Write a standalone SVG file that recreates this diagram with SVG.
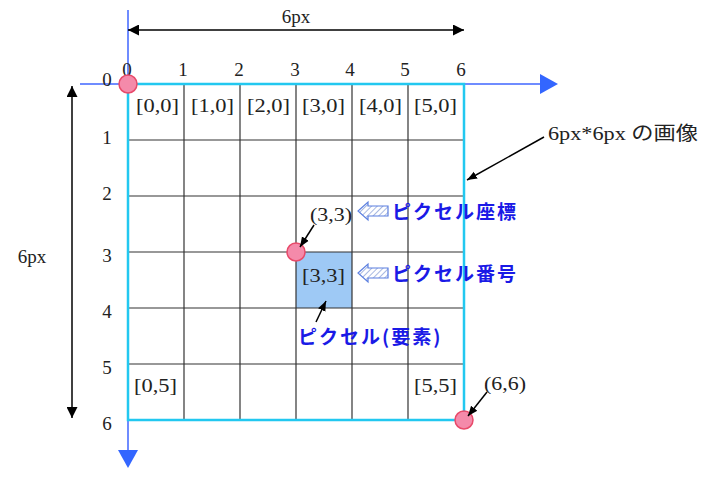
<svg xmlns="http://www.w3.org/2000/svg" width="706" height="496" viewBox="0 0 706 496">
<style>
.t{font-family:"Liberation Serif","Noto Sans CJK JP",serif;font-size:19px;fill:#222}
.b{font-family:"Noto Sans CJK JP",sans-serif;font-size:19px;font-weight:bold;fill:#1a1ae6;letter-spacing:2px}
.g{stroke:#333;stroke-width:1.2}
.ax{stroke:#6f8cff;stroke-width:2}
.pt{fill:#f48aaa;stroke:#e84a6a;stroke-width:1.5}
</style>
<defs>
<marker id="ah" viewBox="0 0 10 10" refX="10" refY="5" markerWidth="10" markerHeight="10" markerUnits="userSpaceOnUse" orient="auto"><path d="M0,1 L10,5 L0,9 Z" fill="#000"/></marker>
<marker id="ah2" viewBox="0 0 10 10" refX="10" refY="5" markerWidth="14" markerHeight="11" markerUnits="userSpaceOnUse" orient="auto-start-reverse"><path d="M0,0 L10,5 L0,10 Z" fill="#000"/></marker>
<pattern id="hatch" width="4" height="4" patternUnits="userSpaceOnUse" patternTransform="rotate(45)"><rect width="4" height="4" fill="#fff"/><line x1="0" y1="0" x2="0" y2="4" stroke="#8aa0d8" stroke-width="1.5"/></pattern>
</defs>
<rect width="706" height="496" fill="#fff"/>
<g id="axes">
<line class="ax" x1="80" y1="84" x2="542" y2="84"/>
<path d="M540,74 L558,84 L540,94 Z" fill="#3366ff"/>
<line class="ax" x1="128" y1="10" x2="128" y2="452"/>
<path d="M118,450 L128,468 L138,450 Z" fill="#3366ff"/>
</g>
<g id="grid">
<rect x="296" y="252" width="56" height="56" fill="#9ec9f5"/>
<g class="g">
<line x1="184" y1="84" x2="184" y2="420"/><line x1="240" y1="84" x2="240" y2="420"/><line x1="296" y1="84" x2="296" y2="420"/><line x1="352" y1="84" x2="352" y2="420"/><line x1="408" y1="84" x2="408" y2="420"/>
<line x1="128" y1="140" x2="464" y2="140"/><line x1="128" y1="196" x2="464" y2="196"/><line x1="128" y1="252" x2="464" y2="252"/><line x1="128" y1="308" x2="464" y2="308"/><line x1="128" y1="364" x2="464" y2="364"/>
</g>
<rect x="128" y="84" width="336" height="336" fill="none" stroke="#22c8f0" stroke-width="2.5"/>
</g>
<g id="labels" class="t">
<text x="127" y="76" text-anchor="middle">0</text><text x="183" y="76" text-anchor="middle">1</text><text x="239" y="76" text-anchor="middle">2</text><text x="295" y="76" text-anchor="middle">3</text><text x="350" y="76" text-anchor="middle">4</text><text x="405" y="76" text-anchor="middle">5</text><text x="461" y="76" text-anchor="middle">6</text>
<text x="107" y="86" text-anchor="middle">0</text><text x="107" y="144" text-anchor="middle">1</text><text x="107" y="200" text-anchor="middle">2</text><text x="107" y="262" text-anchor="middle">3</text><text x="107" y="318" text-anchor="middle">4</text><text x="107" y="374" text-anchor="middle">5</text><text x="107" y="430" text-anchor="middle">6</text>
<text x="136" y="112" textLength="43" lengthAdjust="spacingAndGlyphs">[0,0]</text><text x="191" y="112" textLength="43" lengthAdjust="spacingAndGlyphs">[1,0]</text><text x="247" y="112" textLength="43" lengthAdjust="spacingAndGlyphs">[2,0]</text><text x="302" y="112" textLength="43" lengthAdjust="spacingAndGlyphs">[3,0]</text><text x="359" y="112" textLength="43" lengthAdjust="spacingAndGlyphs">[4,0]</text><text x="414" y="112" textLength="43" lengthAdjust="spacingAndGlyphs">[5,0]</text>
<text x="302" y="282" textLength="43" lengthAdjust="spacingAndGlyphs">[3,3]</text>
<text x="134" y="392" textLength="43" lengthAdjust="spacingAndGlyphs">[0,5]</text><text x="414" y="392" textLength="43" lengthAdjust="spacingAndGlyphs">[5,5]</text>
<text x="296" y="23" text-anchor="middle">6px</text>
<text x="32" y="263" text-anchor="middle">6px</text>
<text x="310" y="221" textLength="42" lengthAdjust="spacingAndGlyphs">(3,3)</text>
<text x="484" y="390" textLength="42" lengthAdjust="spacingAndGlyphs">(6,6)</text>
<text x="548" y="140" textLength="150" lengthAdjust="spacingAndGlyphs">6px*6px の画像</text>
</g>
<g id="points">
<circle class="pt" cx="128" cy="84" r="9"/>
<circle class="pt" cx="296" cy="252" r="9"/>
<circle class="pt" cx="464" cy="420" r="9"/>
</g>
<g id="blue-labels">
<path d="M388,206 L368,206 L368,202 L358,211 L368,220 L368,216 L388,216 Z" fill="url(#hatch)" stroke="#5b7fe0" stroke-width="1.2"/>
<text class="b" x="392" y="219">ピクセル座標</text>
<path d="M388,268 L368,268 L368,264 L358,273 L368,282 L368,278 L388,278 Z" fill="url(#hatch)" stroke="#5b7fe0" stroke-width="1.2"/>
<text class="b" x="392" y="281">ピクセル番号</text>
<text class="b" x="298" y="344">ピクセル(要素)</text>
</g>
<g id="connectors" fill="none" stroke="#000" stroke-width="1.5">
<line x1="128" y1="30" x2="464" y2="30" marker-start="url(#ah2)" marker-end="url(#ah2)"/>
<line x1="72" y1="86" x2="72" y2="418" marker-start="url(#ah2)" marker-end="url(#ah2)"/>
<line x1="314" y1="225" x2="300" y2="247" marker-end="url(#ah)"/>
<line x1="316" y1="322" x2="326" y2="301" marker-end="url(#ah)"/>
<line x1="487" y1="392" x2="468" y2="416" marker-end="url(#ah)"/>
<line x1="544" y1="137" x2="467" y2="180" marker-end="url(#ah)"/>
</g>
</svg>
